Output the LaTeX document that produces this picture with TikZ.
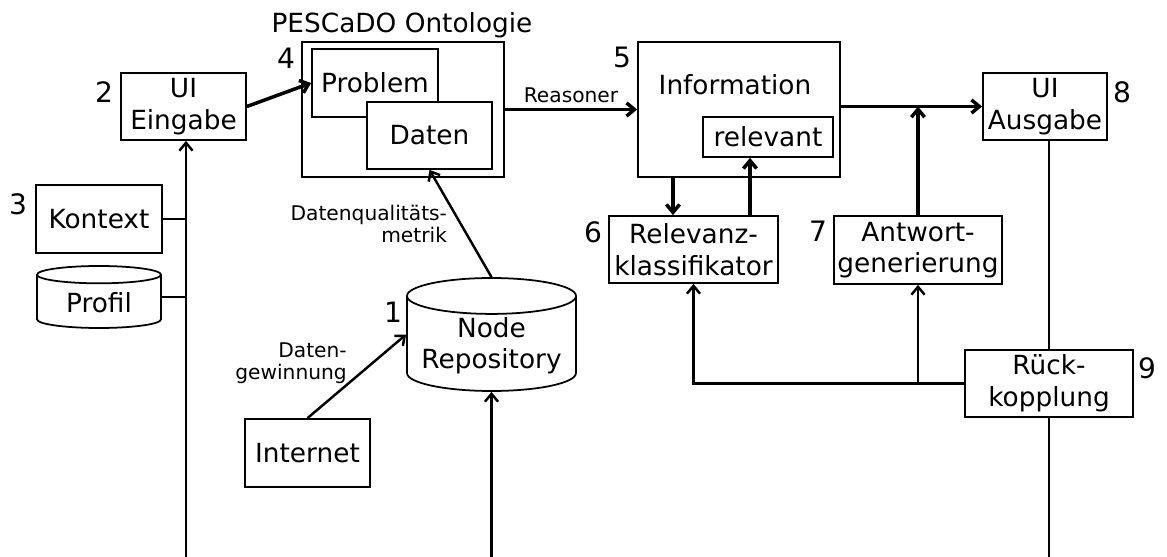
\documentclass[tikz,border=0pt]{standalone}
\usepackage{fontspec}
\setmainfont{DejaVu Sans}
\usetikzlibrary{arrows.meta,shapes.geometric}

\begin{document}
\begin{tikzpicture}[x=0.02cm, y=-0.02cm,
    >={Straight Barb[length=4.5pt,width=7.5pt]},
    box/.style={draw, line width=1pt, fill=white, align=center, inner sep=1pt,
      font=\fontsize{15}{18}\selectfont},
    store/.style={box, cylinder, shape border rotate=90, aspect=0.25, anchor=shape center},
    num/.style={font=\fontsize{16}{18}\selectfont, inner sep=0pt},
    lbl/.style={font=\fontsize{11.5}{12.5}\selectfont, align=right, inner sep=1pt},
    conn/.style={line width=1.4pt},
    heavy/.style={line width=2pt}]
  \useasboundingbox (0,0) rectangle (1167,557);
  \coordinate (bottom) at (0,558);

  \node (titel) [font=\fontsize{15}{18}\selectfont, anchor=base] at (402,33) {PESCaDO Ontologie};
  \node[box, minimum width=4.04cm, minimum height=2.7cm] (onto) at (403,109.5) {};
  \node[box, minimum width=2.52cm, minimum height=1.36cm] (problem) at (375,83) {Problem};
  \node[box, minimum width=2.5cm, minimum height=1.34cm] (daten) at (429.5,135.5) {Daten};

  \node[box, minimum width=2.5cm, minimum height=1.34cm] (eingabe) at (183.5,106.5) {UI\\Eingabe};
  \node[box, minimum width=2.48cm, minimum height=1.34cm] (ausgabe) at (1045,106.5) {UI\\Ausgabe};
  \node[box, minimum width=4.04cm, minimum height=2.7cm] (info) at (739,109.5) {};
  \node (infotext) [font=\fontsize{15}{18}\selectfont] at (735,85) {Information};
  \node[box, minimum width=2.6cm, minimum height=0.8cm] (relevant) at (768,137) {relevant};
  \node[box, minimum width=3.38cm, minimum height=1.34cm] (klass) at (693.5,249.5) {Relevanz-\\klassifikator};
  \node[box, minimum width=3.36cm, minimum height=1.36cm] (antwort) at (918,250) {Antwort-\\generierung};
  \node[box, minimum width=3.36cm, minimum height=1.34cm] (rueck) at (1049,383.5) {Rück-\\kopplung};
  \node[box, minimum width=2.52cm, minimum height=1.36cm] (kontext) at (99,219) {Kontext};
  \node[store, minimum width=2.48cm, minimum height=1.24cm] (profil) at (99,297) {Profil};
  \node[store, minimum width=3.38cm, minimum height=2.26cm] (repo) at (491.5,334.5) {Node\\Repository};
  \node[box, minimum width=2.5cm, minimum height=1.36cm] (internet) at (307.5,453) {Internet};

  \node[num] (n1) at (393,312) {1};
  \node[num] (n2) at (104,92) {2};
  \node[num] (n3) at (18,204) {3};
  \node[num] (n4) at (286,58) {4};
  \node[num] (n5) at (622,57) {5};
  \node[num] (n6) at (593,232) {6};
  \node[num] (n7) at (818,231) {7};
  \node[num] (n8) at (1122,92) {8};
  \node[num] (n9) at (1147,368) {9};

  \draw[heavy,->] (eingabe.east) -- (problem.west);
  \draw[heavy,->] (onto.east) -- node[lbl, above=2pt] {Reasoner} (info.west);
  \draw[heavy,->] (info.east |- ausgabe.west) -- (ausgabe.west);
  \draw[heavy,->] (antwort.north) -- (antwort.north |- ausgabe.west);
  \draw[heavy,->] ([xshift=-0.41cm]klass.north |- info.south) -- ([xshift=-0.41cm]klass.north);
  \draw[heavy,->] ([xshift=1.13cm]klass.north) -- ([xshift=1.13cm]klass.north |- relevant.south);
  \draw[conn,->] (repo.top) -- node[lbl, left=6pt] {Datenqualitäts-\\metrik} (daten.south);
  \draw[conn,->] (internet.north) -- node[lbl, pos=0.66, left=13pt] {Daten-\\gewinnung} (repo.west |- repo.shape center);
  \draw[conn,->] (rueck.west) -| (klass.south);
  \draw[conn,->] (antwort.south |- rueck.west) -- (antwort.south);
  \draw[conn] (ausgabe.south -| rueck.north) -- (rueck.north);
  \draw[conn,->] (rueck.south) -- (rueck.south |- bottom) -| ([xshift=0.05cm]eingabe.south);
  \draw[conn,->] (repo.bottom |- bottom) -- (repo.bottom);
  \draw[conn] (kontext.east) -- ([xshift=0.05cm]eingabe.south |- kontext.east);
  \draw[conn] (profil.east |- profil.shape center) -- ([xshift=0.05cm]eingabe.south |- profil.shape center);
\end{tikzpicture}
\end{document}
